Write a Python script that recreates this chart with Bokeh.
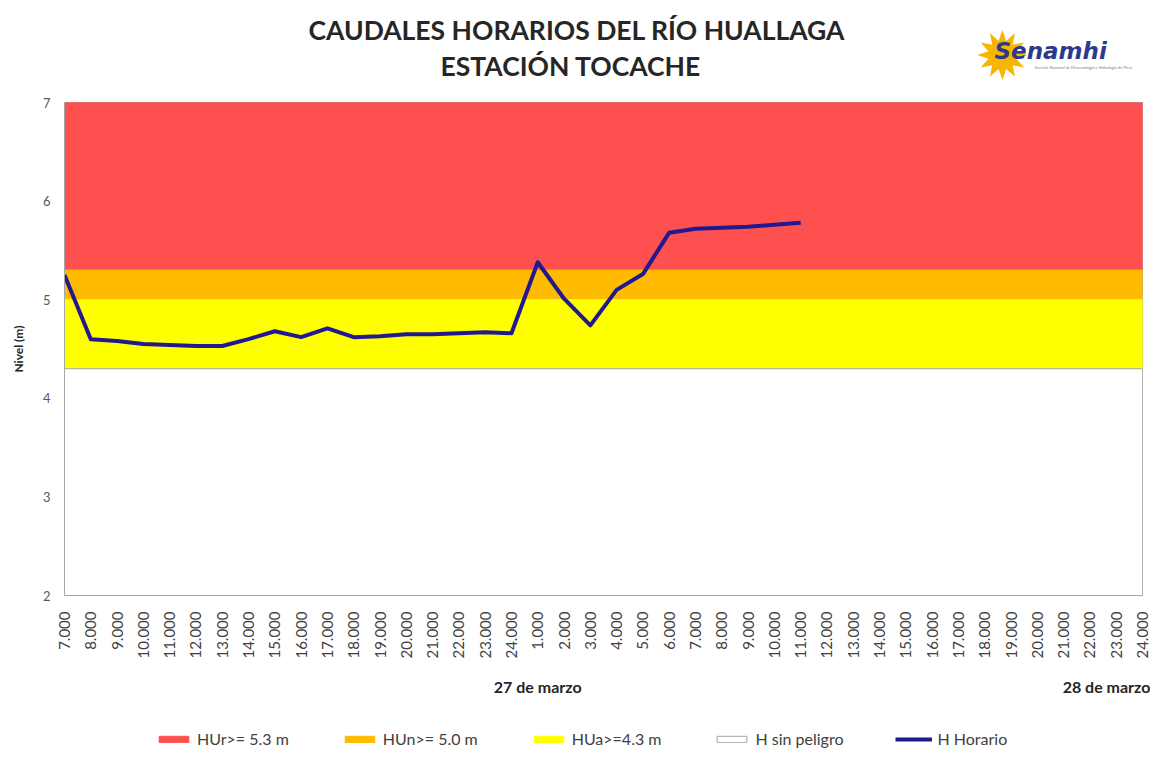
import math
from bokeh.plotting import figure
from bokeh.layouts import column
from bokeh.models import (Range1d, FixedTicker, Legend, LegendItem, Label, LinearAxis)
from bokeh.embed import file_html
from bokeh.resources import INLINE

# ---- data ----
hour_labels = ["7.000", "8.000", "9.000", "10.000", "11.000", "12.000", "13.000", "14.000",
               "15.000", "16.000", "17.000", "18.000", "19.000", "20.000", "21.000", "22.000",
               "23.000", "24.000",
               "1.000", "2.000", "3.000", "4.000", "5.000", "6.000", "7.000", "8.000", "9.000",
               "10.000", "11.000", "12.000", "13.000", "14.000", "15.000", "16.000", "17.000",
               "18.000", "19.000", "20.000", "21.000", "22.000", "23.000", "24.000"]
nivel = [5.25, 4.60, 4.58, 4.55, 4.54, 4.53, 4.53, 4.60, 4.68, 4.62, 4.71, 4.62, 4.63, 4.65,
         4.65, 4.66, 4.67, 4.66, 5.38, 5.01, 4.74, 5.10, 5.26, 5.68, 5.72, 5.73, 5.74, 5.76, 5.78]
band_names = ["HUr>= 5.3 m", "HUn>= 5.0 m", "HUa>=4.3 m", "H sin peligro"]
band_bottom = [5.3, 5.0, 4.3, 2.0]
band_top = [7.0, 5.3, 5.0, 4.3]
band_colors = ["#ff5050", "#ffbb00", "#ffff00", "#ffffff"]
band_lines = ["#ff5050", "#ffbb00", "#ffff00", "#a6a6a6"]
line_name = "H Horario"
line_color = "#22188f"
group_labels = ["27 de marzo", "28 de marzo"]
group_pos = [18, 39.8]
title_lines = ["CAUDALES HORARIOS DEL RÍO HUALLAGA", "ESTACIÓN TOCACHE"]

FONT = "Lato"
W = 1150
BL, BR = 64, 8          # left / right borders shared by all stacked figures
n = len(hour_labels)
xmax = n - 1

# ---------------- header (title + logo) ----------------
HH = 96
head = figure(width=W, height=HH, output_backend="svg", toolbar_location=None,
              x_range=Range1d(BL, W - BR), y_range=Range1d(HH, 0),
              min_border_left=BL, min_border_right=BR, min_border_top=0, min_border_bottom=0,
              x_axis_type=None, y_axis_type=None)
head.outline_line_color = None
head.grid.visible = False
for txt, xx, yy in zip(title_lines, [308, 440], [29, 65]):
    head.add_layout(Label(x=xx, y=yy, text=txt, text_align="left", text_baseline="middle",
                          text_font=FONT, text_font_style="bold", text_font_size="26.5px",
                          text_color="#262626"))
head.add_layout(Label(x=1002, y=56, text="\u2739", text_align="center", text_baseline="middle",
                      text_font="DejaVu Sans", text_font_size="66px", text_color="#f7b500"))
head.add_layout(Label(x=994, y=50, text="Senamhi", text_align="left", text_baseline="middle",
                      text_font="DejaVu Sans", text_font_style="bold italic",
                      text_font_size="23px", text_color="#2c3a8c"))
head.add_layout(Label(x=1034, y=67, text="Servicio Nacional de Meteorología e Hidrología del Perú",
                      text_align="left", text_baseline="middle", text_font=FONT,
                      text_font_size="4px", text_color="#808080"))

# ---------------- main chart ----------------
p = figure(width=W, height=609, output_backend="svg", toolbar_location=None,
           x_range=Range1d(0, xmax), y_range=Range1d(2, 7),
           min_border_left=BL, min_border_right=BR, min_border_top=6, min_border_bottom=110)
p.outline_line_color = "#a6a6a6"
p.grid.visible = False

for b, t, c, lc in zip(band_bottom, band_top, band_colors, band_lines):
    p.quad(left=[0], right=[xmax], bottom=[b], top=[t], fill_color=c, line_color=lc,
           line_width=1)

p.line(x=list(range(len(nivel))), y=nivel, line_color=line_color, line_width=4,
       line_join="round")

p.xaxis.ticker = FixedTicker(ticks=list(range(n)))
p.xaxis.major_label_overrides = {i: s for i, s in enumerate(hour_labels)}
p.xaxis.major_label_orientation = math.pi / 2
p.xaxis.major_label_text_font = FONT
p.xaxis.major_label_text_font_size = "15px"
p.xaxis.major_label_text_color = "#404040"
p.xaxis.major_label_standoff = 16
p.xaxis.major_tick_line_color = None
p.xaxis.major_tick_out = 0
p.xaxis.minor_tick_line_color = None
p.xaxis.minor_tick_out = 0
p.xaxis.axis_line_color = "#a6a6a6"

gaxis = LinearAxis(ticker=FixedTicker(ticks=group_pos),
                   major_label_overrides={pos: s for pos, s in zip(group_pos, group_labels)},
                   major_label_text_font=FONT, major_label_text_font_style="bold",
                   major_label_text_font_size="16px", major_label_text_color="#262626",
                   major_label_standoff=15, axis_line_color=None,
                   major_tick_line_color=None, minor_tick_line_color=None,
                   major_tick_out=0, minor_tick_out=0)
p.add_layout(gaxis, "below")

p.yaxis.ticker = FixedTicker(ticks=[2, 3, 4, 5, 6, 7])
p.yaxis.major_label_text_font = FONT
p.yaxis.major_label_text_font_size = "13px"
p.yaxis.major_label_text_color = "#595959"
p.yaxis.major_label_standoff = 14
p.yaxis.major_tick_line_color = None
p.yaxis.major_tick_out = 0
p.yaxis.minor_tick_line_color = None
p.yaxis.minor_tick_out = 0
p.yaxis.axis_line_color = "#a6a6a6"
p.yaxis.axis_label = "Nivel (m)"
p.yaxis.axis_label_text_font = FONT
p.yaxis.axis_label_text_font_style = "bold"
p.yaxis.axis_label_text_font_size = "12px"
p.yaxis.axis_label_text_color = "#262626"
p.yaxis.axis_label_standoff = 14

# ---------------- footer (legend) ----------------
FH = 51
foot = figure(width=W, height=FH, output_backend="svg", toolbar_location=None,
              x_range=Range1d(0, 1), y_range=Range1d(0, 1),
              min_border_left=BL, min_border_right=BR, min_border_top=0, min_border_bottom=0,
              x_axis_type=None, y_axis_type=None)
foot.outline_line_color = None
foot.grid.visible = False
items = []
for name, b, t, c, lc in zip(band_names, band_bottom, band_top, band_colors, band_lines):
    r = foot.quad(left=[0], right=[1], bottom=[b], top=[t], fill_color=c, line_color=lc,
                  visible=False)
    items.append(LegendItem(label=name, renderers=[r]))
rl = foot.line(x=list(range(len(nivel))), y=nivel, line_color=line_color, line_width=4,
               visible=False)
items.append(LegendItem(label=line_name, renderers=[rl]))
legend = Legend(items=items, orientation="horizontal", location=(91, 8),
                glyph_width=37, glyph_height=8, label_standoff=5, spacing=52,
                label_text_font=FONT, label_text_font_size="16px",
                label_text_color="#404040", background_fill_alpha=0,
                inactive_fill_alpha=0, border_line_color=None, padding=0, margin=0)
foot.add_layout(legend)

layout = column(head, p, foot, spacing=0)
open("out.html", "w").write(file_html(layout, INLINE))
